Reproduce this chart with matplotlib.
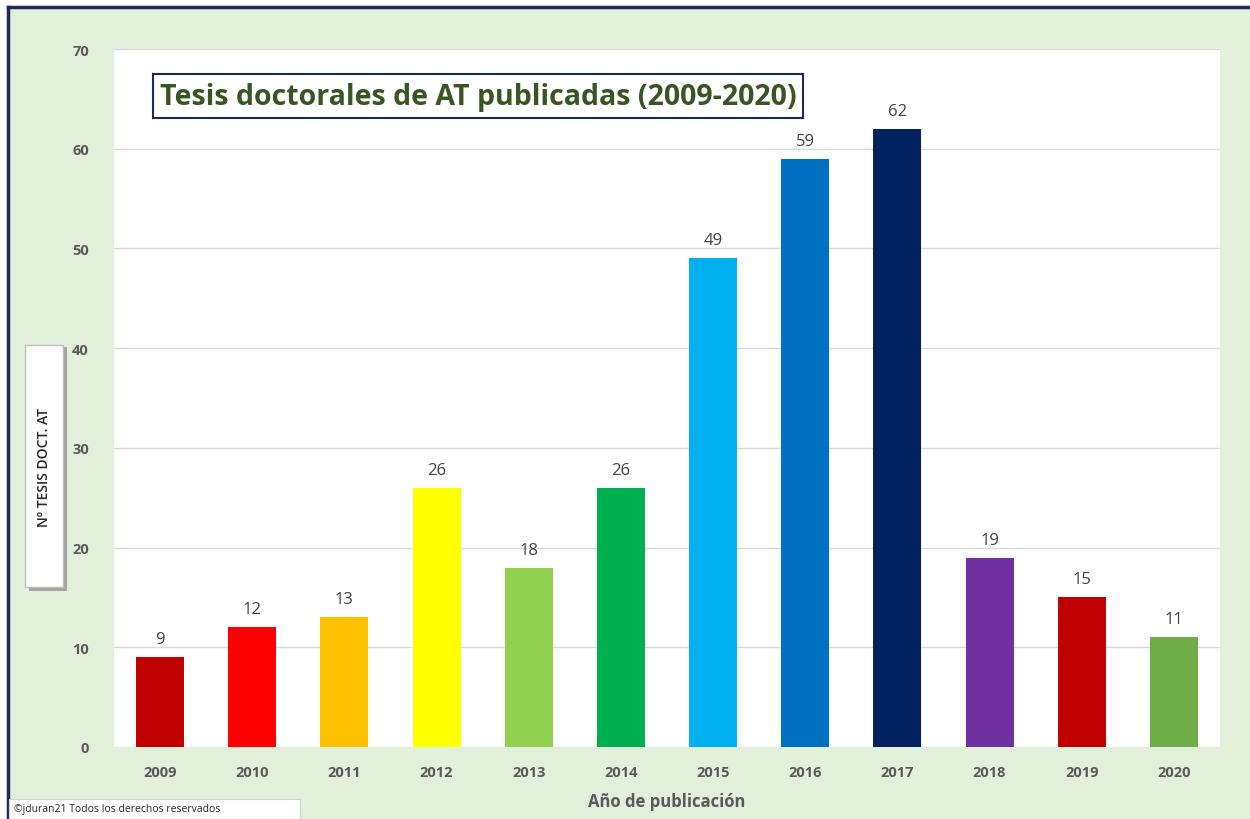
import matplotlib.pyplot as plt
from matplotlib.patches import Rectangle

years = ['2009', '2010', '2011', '2012', '2013', '2014',
         '2015', '2016', '2017', '2018', '2019', '2020']
tesis = [9, 12, 13, 26, 18, 26, 49, 59, 62, 19, 15, 11]
colores = ['#C00000', '#FF0000', '#FFC000', '#FFFF00', '#92D050', '#00B050',
           '#00B0F0', '#0070C0', '#002060', '#7030A0', '#C00000', '#70AD47']

plt.rcParams['font.family'] = ['Open Sans', 'DejaVu Sans']

W, H = 1250, 820
fig = plt.figure(figsize=(W / 100, H / 100), dpi=100)
fig.patch.set_facecolor('white')

# green chart background with navy frame (top + left visible)
fig.patches.append(Rectangle((8 / W, 0), 1, 1 - 8 / H, transform=fig.transFigure,
                             facecolor='#E2EFDA', edgecolor='none', zorder=-10))
fig.lines.append(plt.Line2D([8 / W, 8 / W], [0, 1 - 8 / H], transform=fig.transFigure,
                            color='#1F2A5C', lw=2.5, zorder=-5))
fig.lines.append(plt.Line2D([8 / W, 1], [1 - 8 / H, 1 - 8 / H], transform=fig.transFigure,
                            color='#1F2A5C', lw=2.5, zorder=-5))

ax = fig.add_axes([114 / W, (H - 748) / H, (1220 - 114) / W, (748 - 50) / H])
ax.set_facecolor('white')
x = range(len(years))
bars = ax.bar(x, tesis, width=0.52, color=colores, zorder=3)
for i, v in zip(x, tesis):
    ax.text(i, v + 1.0, str(v), ha='center', va='bottom', fontsize=12, color='#404040')

ax.set_xlim(-0.5, len(years) - 0.5)
ax.set_ylim(0, 70)
ax.set_yticks(range(0, 71, 10))
ax.set_xticks(list(x))
ax.set_xticklabels(years)
ax.tick_params(length=0, labelsize=10.5, labelcolor='#595959', pad=13)
for lab in ax.get_xticklabels() + ax.get_yticklabels():
    lab.set_fontweight('bold')
ax.tick_params(axis='y', pad=18)
ax.grid(axis='y', color='#D9D9D9', lw=1, zorder=0)
for s in ax.spines.values():
    s.set_visible(False)

ax.set_xlabel('Año de publicación', fontsize=12, fontweight='bold', color='#595959', labelpad=9)

# title box
fig.text(478 / W, 1 - 97 / H, 'Tesis doctorales de AT publicadas (2009-2020)',
         ha='center', va='center', fontsize=20.5, fontweight='bold', color='#375623',
         bbox=dict(boxstyle='square,pad=0.25', facecolor='white', edgecolor='#1F2A5C', lw=1.5))

# y label box
fig.patches.append(Rectangle((29 / W, 1 - 592 / H), 38 / W, 244 / H, transform=fig.transFigure,
                             facecolor='#A6A6A6', edgecolor='none', zorder=2))
fig.patches.append(Rectangle((25 / W, 1 - 588 / H), 38 / W, 242 / H, transform=fig.transFigure,
                             facecolor='white', edgecolor='#BFBFBF', lw=1, zorder=3))
fig.text(44 / W, 1 - 467 / H, 'Nº TESIS DOCT. AT', rotation=90, ha='center', va='center',
         fontsize=10, fontweight='semibold', color='#262626', zorder=4)

# copyright box
fig.patches.append(Rectangle((9 / W, 0), 291 / W, 20 / H, transform=fig.transFigure,
                             facecolor='white', edgecolor='#D0D0D0', lw=0.8, zorder=3))
fig.text(14 / W, 5 / H, '©jduran21 Todos los derechos reservados', ha='left', va='bottom',
         fontsize=7.5, color='#262626', zorder=4)

fig.savefig('out.png', dpi=100)
